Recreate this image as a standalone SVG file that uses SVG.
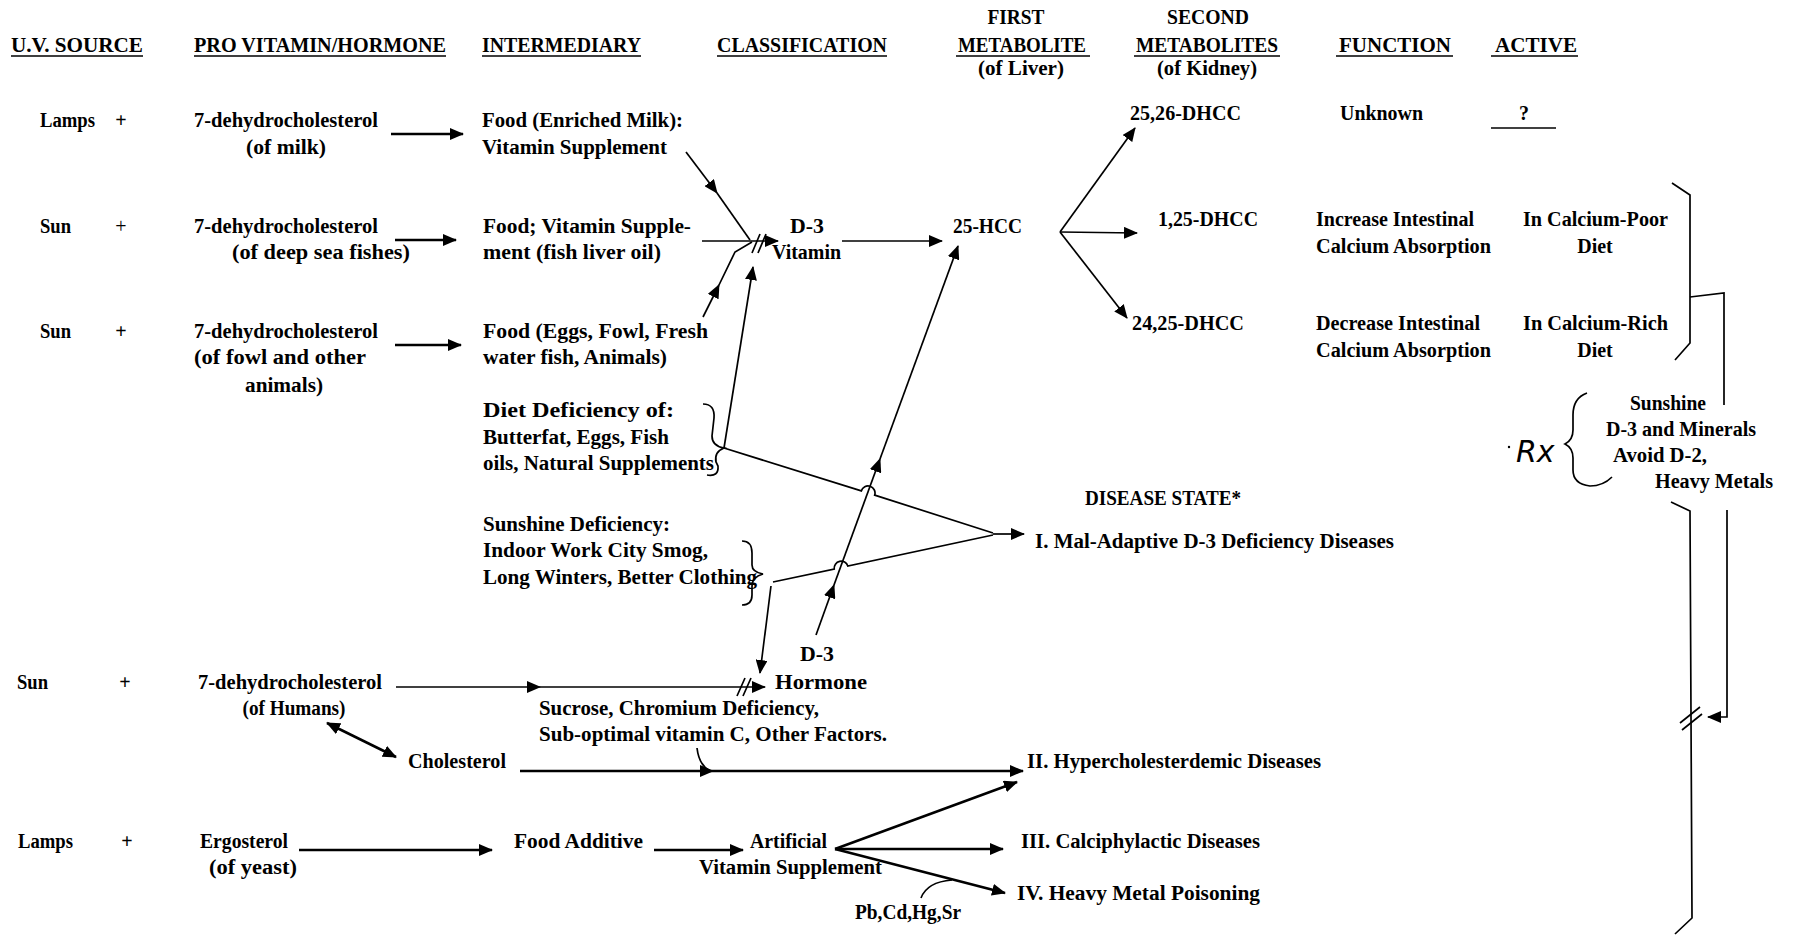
<svg xmlns="http://www.w3.org/2000/svg" width="1794" height="941" viewBox="0 0 1794 941">
<defs>
<style>
text{font-family:"Liberation Serif","Times New Roman",serif;font-size:20px;font-weight:bold;fill:#000}
.m{text-anchor:middle}
.ul{stroke:#000;stroke-width:1.6;fill:none}
.c path,.c line{fill:none;stroke:#000;stroke-width:1.7}
.c .t{stroke-width:2.6}
.rx{font-family:"DejaVu Sans",sans-serif;font-weight:normal;font-style:italic;font-size:30px}
</style>
<marker id="ah" markerUnits="userSpaceOnUse" markerWidth="14" markerHeight="12" refX="13" refY="6" orient="auto-start-reverse"><path d="M0,0 L14,6 L0,12 z" fill="#000"/></marker>
</defs>
<rect width="1794" height="941" fill="#fff"/>

<g id="headers">
<text x="11" y="52" textLength="132" lengthAdjust="spacingAndGlyphs">U.V. SOURCE</text>
<text x="194" y="52" textLength="252" lengthAdjust="spacingAndGlyphs">PRO VITAMIN/HORMONE</text>
<text x="482" y="52" textLength="159" lengthAdjust="spacingAndGlyphs">INTERMEDIARY</text>
<text x="717" y="52" textLength="170" lengthAdjust="spacingAndGlyphs">CLASSIFICATION</text>
<text x="1016" y="24" class="m" textLength="57" lengthAdjust="spacingAndGlyphs">FIRST</text>
<text x="958" y="52" textLength="128" lengthAdjust="spacingAndGlyphs">METABOLITE</text>
<text x="1021" y="75" class="m" textLength="86" lengthAdjust="spacingAndGlyphs">(of Liver)</text>
<text x="1208" y="24" class="m" textLength="82" lengthAdjust="spacingAndGlyphs">SECOND</text>
<text x="1136" y="52" textLength="142" lengthAdjust="spacingAndGlyphs">METABOLITES</text>
<text x="1207" y="75" class="m" textLength="100" lengthAdjust="spacingAndGlyphs">(of Kidney)</text>
<text x="1339" y="52" textLength="112" lengthAdjust="spacingAndGlyphs">FUNCTION</text>
<text x="1495" y="52" textLength="82" lengthAdjust="spacingAndGlyphs">ACTIVE</text>
<path class="ul" d="M11,56 H143 M194,56 H446 M482,56 H641 M717,56 H887 M956,56 H1090 M1134,56 H1280 M1336,56 H1453 M1491,56 H1578"/>
</g>

<g id="uv-lamps-1"><text x="40" y="127" textLength="55" lengthAdjust="spacingAndGlyphs">Lamps</text><text x="121" y="127" class="m">+</text></g>
<g id="pro-milk"><text x="194" y="127" textLength="184" lengthAdjust="spacingAndGlyphs">7-dehydrocholesterol</text><text x="286" y="154" class="m" textLength="80" lengthAdjust="spacingAndGlyphs">(of milk)</text></g>
<g id="int-milk"><text x="482" y="127" textLength="201" lengthAdjust="spacingAndGlyphs">Food (Enriched Milk):</text><text x="482" y="154" textLength="185" lengthAdjust="spacingAndGlyphs">Vitamin Supplement</text></g>
<g id="m2-2526"><text x="1130" y="120" textLength="111" lengthAdjust="spacingAndGlyphs">25,26-DHCC</text></g>
<g id="fn-unknown"><text x="1340" y="120" textLength="83" lengthAdjust="spacingAndGlyphs">Unknown</text></g>
<g id="act-unknown"><text x="1524" y="120" class="m">?</text><path class="ul" d="M1491,128 H1556"/></g>

<g id="uv-sun-2"><text x="40" y="233" textLength="31" lengthAdjust="spacingAndGlyphs">Sun</text><text x="121" y="233" class="m" style="font-weight:normal">+</text></g>
<g id="pro-fish"><text x="194" y="233" textLength="184" lengthAdjust="spacingAndGlyphs">7-dehydrocholesterol</text><text x="232" y="259" textLength="178" lengthAdjust="spacingAndGlyphs">(of deep sea fishes)</text></g>
<g id="int-fish"><text x="483" y="233" textLength="208" lengthAdjust="spacingAndGlyphs">Food; Vitamin Supple-</text><text x="483" y="259" textLength="178" lengthAdjust="spacingAndGlyphs">ment (fish liver oil)</text></g>
<g id="d3-vitamin"><text x="790" y="233" textLength="34" lengthAdjust="spacingAndGlyphs">D-3</text><text x="772" y="259" textLength="69" lengthAdjust="spacingAndGlyphs">Vitamin</text></g>
<g id="hcc25"><text x="953" y="233" textLength="69" lengthAdjust="spacingAndGlyphs">25-HCC</text></g>
<g id="m2-125"><text x="1158" y="226" textLength="100" lengthAdjust="spacingAndGlyphs">1,25-DHCC</text></g>
<g id="fn-increase"><text x="1316" y="226" textLength="158" lengthAdjust="spacingAndGlyphs">Increase Intestinal</text><text x="1316" y="253" textLength="175" lengthAdjust="spacingAndGlyphs">Calcium Absorption</text></g>
<g id="act-poor"><text x="1523" y="226" textLength="145" lengthAdjust="spacingAndGlyphs">In Calcium-Poor</text><text x="1595" y="253" class="m">Diet</text></g>

<g id="uv-sun-3"><text x="40" y="338" textLength="31" lengthAdjust="spacingAndGlyphs">Sun</text><text x="121" y="338" class="m">+</text></g>
<g id="pro-fowl"><text x="194" y="338" textLength="184" lengthAdjust="spacingAndGlyphs">7-dehydrocholesterol</text><text x="194" y="364" textLength="172" lengthAdjust="spacingAndGlyphs">(of fowl and other</text><text x="284" y="392" class="m" textLength="78" lengthAdjust="spacingAndGlyphs">animals)</text></g>
<g id="int-fowl"><text x="483" y="338" textLength="225" lengthAdjust="spacingAndGlyphs">Food (Eggs, Fowl, Fresh</text><text x="483" y="364" textLength="184" lengthAdjust="spacingAndGlyphs">water fish, Animals)</text></g>
<g id="m2-2425"><text x="1132" y="330" textLength="112" lengthAdjust="spacingAndGlyphs">24,25-DHCC</text></g>
<g id="fn-decrease"><text x="1316" y="330" textLength="164" lengthAdjust="spacingAndGlyphs">Decrease Intestinal</text><text x="1316" y="357" textLength="175" lengthAdjust="spacingAndGlyphs">Calcium Absorption</text></g>
<g id="act-rich"><text x="1523" y="330" textLength="145" lengthAdjust="spacingAndGlyphs">In Calcium-Rich</text><text x="1595" y="357" class="m">Diet</text></g>

<g id="diet-deficiency"><text x="483" y="417" textLength="191" lengthAdjust="spacingAndGlyphs">Diet Deficiency of:</text><text x="483" y="444" textLength="186" lengthAdjust="spacingAndGlyphs">Butterfat, Eggs, Fish</text><text x="483" y="470" textLength="231" lengthAdjust="spacingAndGlyphs">oils, Natural Supplements</text></g>
<g id="sun-deficiency"><text x="483" y="531" textLength="187" lengthAdjust="spacingAndGlyphs">Sunshine Deficiency:</text><text x="483" y="557" textLength="225" lengthAdjust="spacingAndGlyphs">Indoor Work City Smog,</text><text x="483" y="584" textLength="274" lengthAdjust="spacingAndGlyphs">Long Winters, Better Clothing</text></g>
<g id="disease-state"><text x="1085" y="505" textLength="156" lengthAdjust="spacingAndGlyphs">DISEASE STATE*</text></g>
<g id="disease-1"><text x="1035" y="548" textLength="359" lengthAdjust="spacingAndGlyphs">I. Mal-Adaptive D-3 Deficiency Diseases</text></g>

<g id="d3-hormone"><text x="800" y="661" textLength="34" lengthAdjust="spacingAndGlyphs">D-3</text><text x="775" y="689" textLength="92" lengthAdjust="spacingAndGlyphs">Hormone</text></g>
<g id="uv-sun-4"><text x="17" y="689" textLength="31" lengthAdjust="spacingAndGlyphs">Sun</text><text x="125" y="689" class="m">+</text></g>
<g id="pro-humans"><text x="198" y="689" textLength="184" lengthAdjust="spacingAndGlyphs">7-dehydrocholesterol</text><text x="294" y="715" class="m" textLength="103" lengthAdjust="spacingAndGlyphs">(of Humans)</text></g>
<g id="factors"><text x="539" y="715" textLength="280" lengthAdjust="spacingAndGlyphs">Sucrose, Chromium Deficiency,</text><text x="539" y="741" textLength="348" lengthAdjust="spacingAndGlyphs">Sub-optimal vitamin C, Other Factors.</text></g>
<g id="cholesterol"><text x="408" y="768" textLength="98" lengthAdjust="spacingAndGlyphs">Cholesterol</text></g>
<g id="disease-2"><text x="1027" y="768" textLength="294" lengthAdjust="spacingAndGlyphs">II. Hypercholesterdemic Diseases</text></g>

<g id="uv-lamps-5"><text x="18" y="848" textLength="55" lengthAdjust="spacingAndGlyphs">Lamps</text><text x="127" y="848" class="m">+</text></g>
<g id="pro-ergosterol"><text x="200" y="848" textLength="88" lengthAdjust="spacingAndGlyphs">Ergosterol</text><text x="209" y="874" textLength="88" lengthAdjust="spacingAndGlyphs">(of yeast)</text></g>
<g id="food-additive"><text x="514" y="848" textLength="129" lengthAdjust="spacingAndGlyphs">Food Additive</text></g>
<g id="artificial"><text x="750" y="848" textLength="77" lengthAdjust="spacingAndGlyphs">Artificial</text><text x="699" y="874" textLength="183" lengthAdjust="spacingAndGlyphs">Vitamin Supplement</text></g>
<g id="disease-3"><text x="1021" y="848" textLength="239" lengthAdjust="spacingAndGlyphs">III. Calciphylactic Diseases</text></g>
<g id="disease-4"><text x="1017" y="900" textLength="243" lengthAdjust="spacingAndGlyphs">IV. Heavy Metal Poisoning</text></g>
<g id="metals"><text x="855" y="919" textLength="106" lengthAdjust="spacingAndGlyphs">Pb,Cd,Hg,Sr</text></g>

<g id="rx"><text x="1516" y="462" class="rx">Rx</text><circle cx="1509" cy="447" r="1.2" fill="#000"/></g>
<g id="rx-items"><text x="1668" y="410" class="m" textLength="76" lengthAdjust="spacingAndGlyphs">Sunshine</text><text x="1606" y="436" textLength="150" lengthAdjust="spacingAndGlyphs">D-3 and Minerals</text><text x="1613" y="462" textLength="94" lengthAdjust="spacingAndGlyphs">Avoid D-2,</text><text x="1655" y="488" textLength="118" lengthAdjust="spacingAndGlyphs">Heavy Metals</text></g>

<g id="connectors" class="c">
<line class="t" x1="391" y1="134" x2="463" y2="134" marker-end="url(#ah)"/>
<line class="t" x1="395" y1="240" x2="456" y2="240" marker-end="url(#ah)"/>
<line class="t" x1="395" y1="345" x2="461" y2="345" marker-end="url(#ah)"/>
<path d="M686,152 L717,193" marker-end="url(#ah)"/>
<path d="M717,193 L750,240"/>
<path d="M702,241 L778,241" marker-end="url(#ah)"/>
<path d="M752,253 L760,234 M758,253 L766,234"/>
<path d="M703,317 L719,285" marker-end="url(#ah)"/>
<path d="M719,285 L735,252 L752,242"/>
<path d="M842,241 L942,241" marker-end="url(#ah)"/>
<path d="M724,448 L753,267" marker-end="url(#ah)"/>
<path d="M816,635 L834,585" marker-end="url(#ah)"/>
<path d="M834,585 L880,459" marker-end="url(#ah)"/>
<path d="M880,459 L958,246" marker-end="url(#ah)"/>
<path d="M724,448 L861.3,490.9 A7,7 0 0 1 874.7,495.1 L993,533"/>
<path d="M773,582 L834.2,569 A7,7 0 0 1 847.8,566 L993,535"/>
<path d="M993,534 L1024,534" marker-end="url(#ah)"/>
<path d="M771,586 L760,673" marker-end="url(#ah)"/>
<path d="M396,687 L540,687" marker-end="url(#ah)"/>
<path d="M540,687 L765,687" marker-end="url(#ah)"/>
<path d="M737,696 L745,678 M743,696 L751,678"/>
<path class="t" d="M327,723 L396,757" marker-start="url(#ah)" marker-end="url(#ah)"/>
<path class="t" d="M520,771 L713,771" marker-end="url(#ah)"/>
<path class="t" d="M713,771 L1023,771" marker-end="url(#ah)"/>
<path d="M697,748 Q699,765 710,771"/>
<path class="t" d="M299,850 L492,850" marker-end="url(#ah)"/>
<path class="t" d="M654,850 L743,850" marker-end="url(#ah)"/>
<path class="t" d="M835,849 L1017,782" marker-end="url(#ah)"/>
<path class="t" d="M835,849 L1003,849" marker-end="url(#ah)"/>
<path class="t" d="M835,849 L1005,893" marker-end="url(#ah)"/>
<path d="M921,898 Q927,882 952,880"/>
<path d="M1060,232 L1135,128" marker-end="url(#ah)"/>
<path d="M1060,232 L1137,233" marker-end="url(#ah)"/>
<path d="M1060,232 L1127,318" marker-end="url(#ah)"/>
<path d="M1672,183 L1690,195 L1690,343 L1675,360"/>
<path d="M1690,297 L1724,293 L1724,405"/>
<path d="M1727,510 L1727,717 L1708,717" marker-end="url(#ah)"/>
<path d="M1671,502 L1690,511 L1692,918 L1675,934"/>
<path d="M1680,723 L1700,707 M1682,730 L1702,714"/>
<path d="M703,404 Q715,404 714,418 L712,436 Q712,446 724,448 Q714,452 716,462 L718,466 Q719,477 707,475"/>
<path d="M742,541 Q752,541 752,553 L752,565 Q752,572 763,574 Q752,577 752,586 L752,595 Q752,605 742,605"/>
<path d="M1587,393 Q1573,398 1573,415 L1573,430 Q1573,440 1565,444 Q1573,448 1573,458 L1573,470 Q1573,484 1590,486 Q1603,486 1612,477"/>
</g>
</svg>
